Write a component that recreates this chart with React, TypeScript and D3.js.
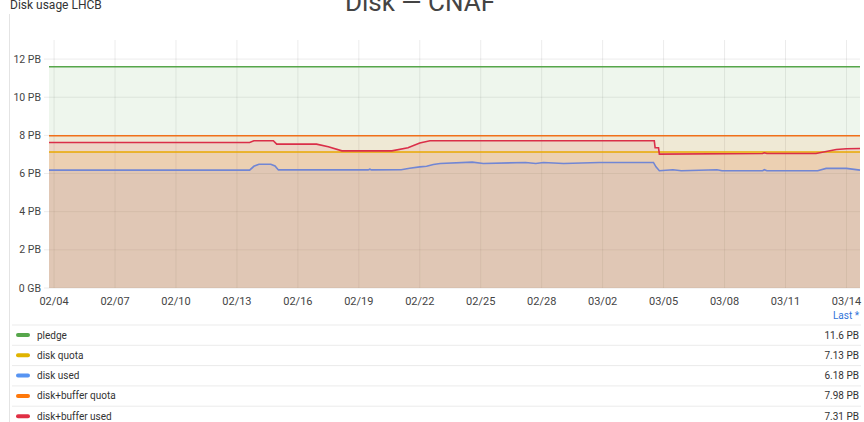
import * as d3 from 'd3';

const parse = d3.timeParse('%Y-%m-%dT%H');

// time range of the panel
const START = '2024-02-03T18';
const END = '2024-03-14T16';

const seriesNames = ['pledge', 'disk quota', 'disk used', 'disk+buffer quota', 'disk+buffer used'];
const seriesColors = ['#56A64B', '#E0B400', '#5794F2', '#FF780A', '#E02F44'];
const lineColors = ['#56A64B', '#E8A800', '#7186D4', '#F0701A', '#DA2E48'];
const lastValues = ['11.6 PB', '7.13 PB', '6.18 PB', '7.98 PB', '7.31 PB'];

const pledgeTimes = [START, END];
const pledgeValues = [11.6, 11.6];

const diskQuotaTimes = [START, END];
const diskQuotaValues = [7.13, 7.13];

const bufferQuotaTimes = [START, END];
const bufferQuotaValues = [7.98, 7.98];

const diskUsedTimes = [
  START, '2024-02-13T15', '2024-02-13T20', '2024-02-14T02', '2024-02-14T16', '2024-02-14T21', '2024-02-15T01',
  '2024-02-19T11', '2024-02-19T13', '2024-02-19T15', '2024-02-21T02', '2024-02-21T12', '2024-02-22T00',
  '2024-02-22T08', '2024-02-22T16', '2024-02-23T00', '2024-02-24T14', '2024-02-25T03', '2024-02-27T05',
  '2024-02-27T17', '2024-02-28T02', '2024-02-29T02', '2024-03-01T20', '2024-03-04T12', '2024-03-04T15',
  '2024-03-04T19', '2024-03-05T11', '2024-03-05T21', '2024-03-07T15', '2024-03-07T21', '2024-03-09T21',
  '2024-03-09T23', '2024-03-10T02', '2024-03-12T14', '2024-03-13T00', '2024-03-14T00', END,
];
const diskUsedValues = [
  6.18, 6.18, 6.38, 6.49, 6.49, 6.4, 6.19,
  6.19, 6.23, 6.19, 6.2, 6.28, 6.35,
  6.38, 6.47, 6.53, 6.6, 6.53, 6.58,
  6.53, 6.58, 6.53, 6.58, 6.58, 6.35,
  6.15, 6.2, 6.15, 6.2, 6.15, 6.15,
  6.2, 6.15, 6.15, 6.27, 6.27, 6.18,
];

const bufferUsedTimes = [
  START, '2024-02-13T15', '2024-02-13T20', '2024-02-14T19', '2024-02-14T23', '2024-02-16T22',
  '2024-02-17T12', '2024-02-18T04', '2024-02-20T15', '2024-02-21T10', '2024-02-22T00', '2024-02-22T12',
  '2024-03-04T13', '2024-03-04T14', '2024-03-04T18', '2024-03-04T19', '2024-03-09T21', '2024-03-09T23',
  '2024-03-10T02', '2024-03-12T12', '2024-03-13T12', '2024-03-14T00', END,
];
const bufferUsedValues = [
  7.63, 7.63, 7.72, 7.72, 7.54, 7.54,
  7.4, 7.19, 7.19, 7.35, 7.6, 7.72,
  7.72, 7.35, 7.35, 7.02, 7.05, 7.09,
  7.05, 7.05, 7.26, 7.3, 7.31,
];

const yTicks = [0, 2, 4, 6, 8, 10, 12];
const xTickDates = ['2024-02-04T00', '2024-02-07T00', '2024-02-10T00', '2024-02-13T00', '2024-02-16T00',
  '2024-02-19T00', '2024-02-22T00', '2024-02-25T00', '2024-02-28T00', '2024-03-02T00', '2024-03-05T00',
  '2024-03-08T00', '2024-03-11T00', '2024-03-14T00'];

const W = 864;
const H = 422;
const plot = { left: 49, right: 860, top: 40, bottom: 288 };

const App = () => {
  const x = d3.scaleTime()
    .domain([parse(START)!, parse(END)!])
    .range([plot.left, plot.right]);
  const y = d3.scaleLinear()
    .domain([0, 13])
    .range([plot.bottom, plot.top]);

  const all = [
    [pledgeTimes, pledgeValues],
    [diskQuotaTimes, diskQuotaValues],
    [diskUsedTimes, diskUsedValues],
    [bufferQuotaTimes, bufferQuotaValues],
    [bufferUsedTimes, bufferUsedValues],
  ].map(([t, v]) => (t as string[]).map((s, i) => ({ t: parse(s)!, v: (v as number[])[i] })));

  const line = d3.line<{ t: Date; v: number }>().x(d => x(d.t)).y(d => y(d.v));
  const area = d3.area<{ t: Date; v: number }>().x(d => x(d.t)).y0(y(0)).y1(d => y(d.v));

  const font = 'Roboto, "Liberation Sans", sans-serif';
  const rowY = (i: number) => 335 + i * 20.3;

  return (
    <svg width={W} height={H} style={{ position: 'absolute', left: 0, top: 0, background: '#fff' }} fontFamily={font}>
      {/* panel border */}
      <line x1={9.5} x2={9.5} y1={14} y2={H} stroke="#e4e4e4" />
      <text x={10} y={9} fontSize={12} fill="#333">Disk usage LHCB</text>
      <text x={420} y={11} fontSize={26} fill="#444" textAnchor="middle">Disk — CNAF</text>

      {/* grid */}
      {xTickDates.map(s => (
        <line key={s} x1={x(parse(s)!)} x2={x(parse(s)!)} y1={plot.top} y2={plot.bottom} stroke="rgba(0,0,0,0.08)" />
      ))}
      {yTicks.map(v => (
        <line key={v} x1={44} x2={plot.right} y1={y(v)} y2={y(v)} stroke="rgba(0,0,0,0.08)" />
      ))}

      {/* fills */}
      {all.map((d, i) => (
        <path key={'a' + i} d={area(d)!} fill={seriesColors[i]} fillOpacity={0.1} />
      ))}
      {all.map((d, i) => (
        <path key={'l' + i} d={line(d)!} fill="none" stroke={lineColors[i]} strokeWidth={1.6} />
      ))}

      {/* y axis labels */}
      {yTicks.map(v => (
        <text key={v} x={41} y={y(v) + 3.5} fontSize={10.5} fill="#444" textAnchor="end">
          {v === 0 ? '0 GB' : `${v} PB`}
        </text>
      ))}
      {/* x axis labels */}
      {xTickDates.map(s => (
        <text key={s} x={x(parse(s)!)} y={305} fontSize={11} fill="#444" textAnchor="middle">
          {d3.timeFormat('%m/%d')(parse(s)!)}
        </text>
      ))}

      {/* legend */}
      <text x={859} y={319} fontSize={10} fill="#3274D9" textAnchor="end">Last *</text>
      {seriesNames.map((n, i) => (
        <g key={n}>
          <line x1={12} x2={861} y1={rowY(i) - 10} y2={rowY(i) - 10} stroke="#ebebeb" />
          <line x1={18} x2={28} y1={rowY(i)} y2={rowY(i)} stroke={seriesColors[i]} strokeWidth={4} strokeLinecap="round" />
          <text x={37} y={rowY(i) + 3.5} fontSize={10} fill="#333">{n}</text>
          <text x={859} y={rowY(i) + 3.5} fontSize={10} fill="#333" textAnchor="end">{lastValues[i]}</text>
        </g>
      ))}
    </svg>
  );
};

export default App;
